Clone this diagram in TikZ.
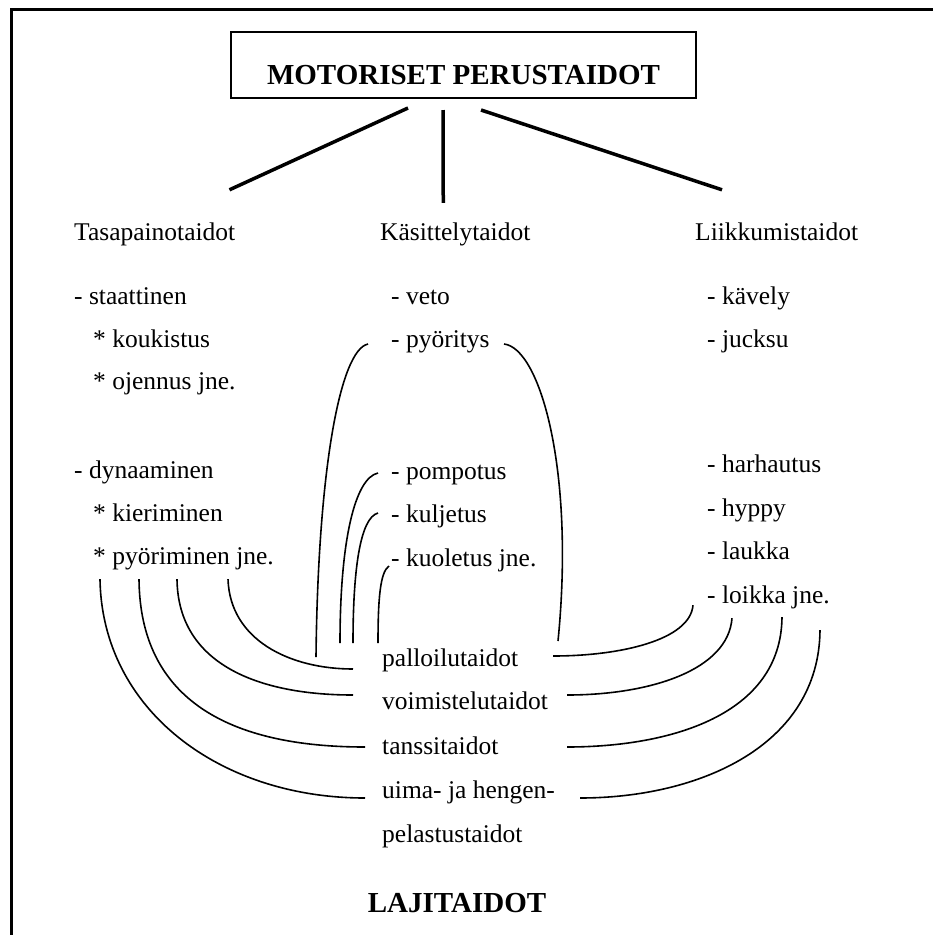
\documentclass[tikz,border=0pt]{standalone}
\usepackage{fontspec}
\setmainfont{Liberation Serif}
\begin{document}
\begin{tikzpicture}[x=1pt, y=-1pt,
  item/.style={anchor=west, inner sep=0pt, text height=18pt, text depth=6pt, font=\fontsize{25.5}{30}\selectfont},
  otsikko/.style={inner sep=0pt, font=\fontsize{29}{34}\selectfont\bfseries},
  haara/.style={line width=3.5pt},
  kaari/.style={line width=1.6pt}]
\useasboundingbox (0,0) rectangle (933,935);
\draw[line width=3pt] (11,935) -- (11,9) -- (933,9); % kehys
\node[otsikko, draw, line width=2pt, anchor=south, minimum width=465pt, text height=52pt, text depth=14pt] (mot) at (463.5,99) {MOTORISET PERUSTAIDOT};
% paaryhmat
\node[item] (tasa) at (74,234) {Tasapainotaidot};
\node[item] (kasi) at (380,234) {Käsittelytaidot};
\node[item] (liik) at (695,234) {Liikkumistaidot};
\draw[haara] ([shift={(-55.5,9)}]mot.south) -- ([shift={(-6,-32)}]tasa.north east);
\draw[haara] ([shift={(-20.5,11)}]mot.south) -- ([shift={(-12,-19)}]kasi.north);
\draw[haara] ([shift={(17.5,11)}]mot.south) -- ([shift={(27,-32)}]liik.north west);
% tasapaino
\node[item] (staat) at (74,298) {- staattinen};
\node[item] (kouk) at (93,341) {* koukistus};
\node[item] (ojen) at (93,383) {* ojennus jne.};
\node[item] (dyn) at (74,472) {- dynaaminen};
\node[item] (kier) at (93,515) {* kieriminen};
\node[item] (pyorim) at (93,558) {* pyöriminen jne.};
% kasittely
\node[item] (veto) at (391,298) {- veto};
\node[item] (pyorit) at (391,341) {- pyöritys};
\node[item] (pomp) at (391,473) {- pompotus};
\node[item] (kulj) at (391,516) {- kuljetus};
\node[item] (kuol) at (391,560) {- kuoletus jne.};
% liikkuminen
\node[item] (kav) at (707,298) {- kävely};
\node[item] (juok) at (707,341) {- jucksu};
\node[item] (harh) at (707,466) {- harhautus};
\node[item] (hyp) at (707,510) {- hyppy};
\node[item] (lauk) at (707,553) {- laukka};
\node[item] (loik) at (707,597) {- loikka jne.};
% lajitaidot
\node[item] (pall) at (382,660) {palloilutaidot};
\node[item] (voim) at (382,703) {voimistelutaidot};
\node[item] (tans) at (382,748) {tanssitaidot};
\node[item] (uima) at (382,792) {uima- ja hengen-};
\node[item] (pela) at (382,836) {pelastustaidot};
\node[otsikko, anchor=base] (laji) at (457,912) {LAJITAIDOT};
% vasemmat kaaret
\draw[kaari] ([shift={(135,9)}]pyorim.south west) .. controls +(2,61) and +(-63,0) .. ([shift={(-29,9)}]pall.west);
\draw[kaari] ([shift={(84,9)}]pyorim.south west) .. controls +(1,86) and +(-93,0) .. ([shift={(-29,-8)}]voim.west);
\draw[kaari] ([shift={(46,9)}]pyorim.south west) .. controls +(1,121) and +(-135,0) .. ([shift={(-17,-1)}]tans.west);
\draw[kaari] ([shift={(7,9)}]pyorim.south west) .. controls +(2,131) and +(-145,0) .. ([shift={(-17,6)}]uima.west);
% keskikaaret
\draw[kaari] ([shift={(-23,3)}]pyorit.west) .. controls +(-28,6) and +(2,-187) .. ([shift={(-66,-3)}]pall.west);
\draw[kaari] ([shift={(113,3)}]pyorit.west) .. controls +(36,4) and +(17,-171) .. ([shift={(176,-19)}]pall.west);
\draw[kaari] ([shift={(-13,0)}]pomp.west) .. controls +(-23,5) and +(0,-103) .. ([shift={(-42,-17)}]pall.west);
\draw[kaari] ([shift={(-13,-3)}]kulj.west) .. controls +(-18,5) and +(0,-73) .. ([shift={(-29,-17)}]pall.west);
\draw[kaari] ([shift={(-2,6)}]kuol.west) .. controls +(-9,6) and +(0,-43) .. ([shift={(-4,-17)}]pall.west);
% oikeat kaaret
\draw[kaari] ([shift={(-14,-4)}]loik.south west) .. controls +(-3,35) and +(67,0) .. ([shift={(171,-4)}]pall.west);
\draw[kaari] ([shift={(25,9)}]loik.south west) .. controls +(-4,52) and +(83,0) .. ([shift={(185,-8)}]voim.west);
\draw[kaari] ([shift={(75,8)}]loik.south west) .. controls +(-1,98) and +(103,0) .. ([shift={(185,-1)}]tans.west);
\draw[kaari] ([shift={(113,21)}]loik.south west) .. controls +(-1,115) and +(120,0) .. ([shift={(198,6)}]uima.west);
\end{tikzpicture}
\end{document}
